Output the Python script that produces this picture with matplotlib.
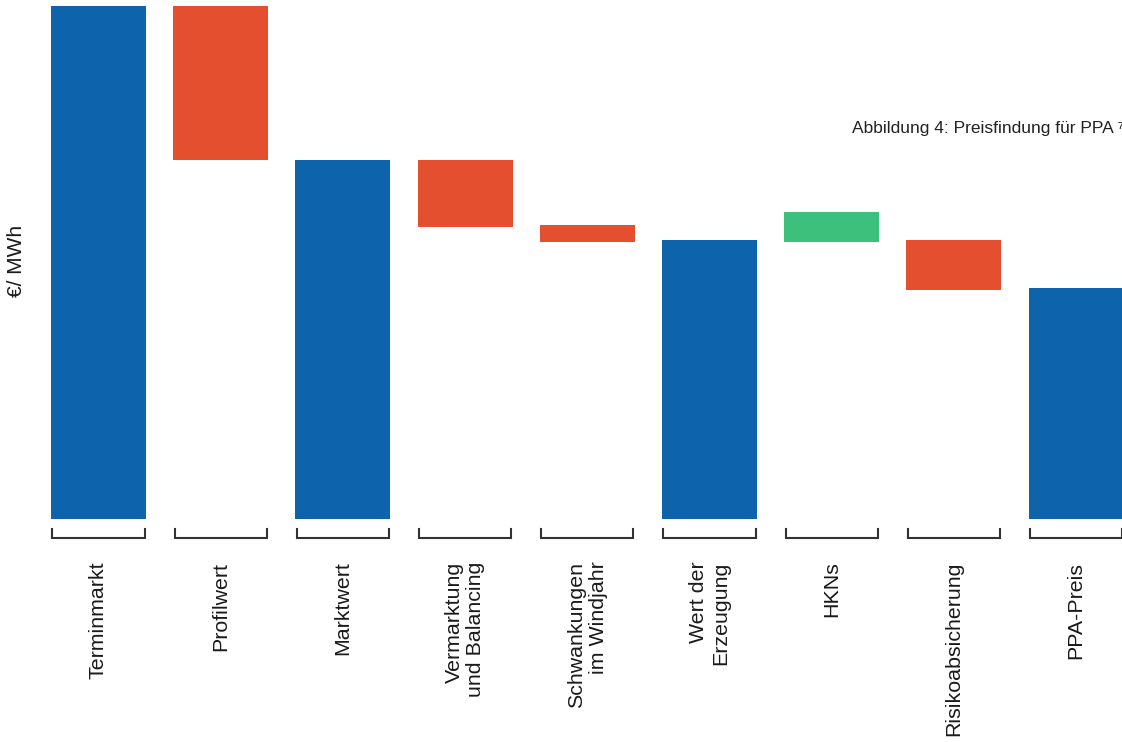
import matplotlib
matplotlib.use("Agg")
import matplotlib.pyplot as plt

plt.rcParams['font.family'] = ['Liberation Sans', 'DejaVu Sans']

# Preisbausteine (€/MWh, relative Skala): Unter- und Oberkante je Balken
labels = ["Terminmarkt", "Profilwert", "Marktwert", "Vermarktung\nund Balancing",
          "Schwankungen\nim Windjahr", "Wert der\nErzeugung", "HKNs",
          "Risikoabsicherung", "PPA-Preis"]
low = [0, 70, 0, 57, 54, 0, 54, 44.6, 0]
high = [100, 100, 70, 70, 57.3, 54.4, 59.8, 54.4, 45]
kind = ["total", "minus", "total", "minus", "minus", "total", "plus", "minus", "total"]

colors = {"total": "#0e63ad", "minus": "#e44f30", "plus": "#3dc07b"}

fig = plt.figure(figsize=(11.22, 7.42), dpi=100)
ax = fig.add_axes([37.4 / 1122, 223 / 742, 1099.8 / 1122, 513 / 742])

x = list(range(len(labels)))
ax.bar(x, [h - l for h, l in zip(high, low)], bottom=low, width=0.777,
       color=[colors[k] for k in kind], linewidth=0)

ax.set_xlim(-0.5, 8.5)
ax.set_ylim(0, 100)
ax.axis("off")

# Klammern unter den Balken und Beschriftungen
for i, lab in enumerate(labels):
    hw = 0.377
    ax.plot([i - hw, i - hw, i + hw, i + hw], [-1.9, -3.7, -3.7, -1.9],
            color="#333333", lw=1.5, clip_on=False, solid_joinstyle="miter")
    ax.text(i, -8.3, lab, rotation=90, ha="center", va="top",
            multialignment="right", fontsize=15.4, linespacing=1.17,
            color="#1a1a1a", clip_on=False)

fig.text(17 / 1122, 1 - 261 / 742, "€/ MWh", rotation=90, ha="center",
         va="center", fontsize=15, color="#1a1a1a")

fig.text(852 / 1122, 1 - 128 / 742, "Abbildung 4: Preisfindung für PPA ⁷",
         ha="left", va="center", fontsize=12.5, color="#222222")

fig.savefig("out.png", dpi=100)
